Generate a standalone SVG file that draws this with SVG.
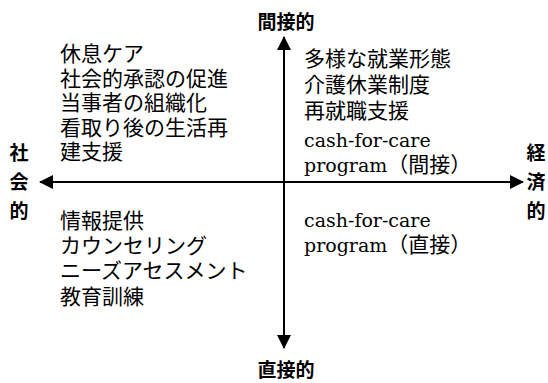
<svg xmlns="http://www.w3.org/2000/svg" width="548" height="383" viewBox="0 0 548 383">
<defs>
<style>
.t{font-family:"Noto Sans CJK JP","Noto Sans CJK SC",sans-serif;font-size:21px;fill:#000}
.s{font-family:"DejaVu Serif","Liberation Serif","Noto Sans CJK JP",serif;font-size:19px;fill:#000}
.j{font-family:"Noto Sans CJK JP",sans-serif;font-size:21px}
.b{font-family:"Noto Sans CJK JP","Noto Sans CJK SC",sans-serif;font-size:19px;font-weight:700;fill:#000}
.ax{stroke:#000;stroke-width:2;fill:none}
</style>
<marker id="ah" viewBox="0 0 14 14" refX="13" refY="7" markerWidth="14" markerHeight="14" markerUnits="userSpaceOnUse" orient="auto">
<path d="M0,0 L14,7 L0,14 Z" fill="#000"/>
</marker>
</defs>
<g id="connectors">
<line class="ax" x1="284" y1="182" x2="40" y2="182" marker-end="url(#ah)"/>
<line class="ax" x1="284" y1="182" x2="523" y2="182" marker-end="url(#ah)"/>
<line class="ax" x1="284" y1="182" x2="284" y2="37" marker-end="url(#ah)"/>
<line class="ax" x1="284" y1="182" x2="284" y2="348" marker-end="url(#ah)"/>
</g>
<g id="label-top"><text class="b" x="286" y="29" text-anchor="middle">間接的</text></g>
<g id="label-bottom"><text class="b" x="286" y="377" text-anchor="middle">直接的</text></g>
<g id="label-left">
<text class="b" x="19" y="160" text-anchor="middle">社</text>
<text class="b" x="19" y="189" text-anchor="middle">会</text>
<text class="b" x="19" y="218" text-anchor="middle">的</text>
</g>
<g id="label-right">
<text class="b" x="536" y="160" text-anchor="middle">経</text>
<text class="b" x="536" y="189" text-anchor="middle">済</text>
<text class="b" x="536" y="218" text-anchor="middle">的</text>
</g>
<g id="q-top-left">
<text class="t" x="60" y="61">休息ケア</text>
<text class="t" x="60" y="85.5">社会的承認の促進</text>
<text class="t" x="60" y="110">当事者の組織化</text>
<text class="t" x="60" y="134.5">看取り後の生活再</text>
<text class="t" x="60" y="159">建支援</text>
</g>
<g id="q-top-right">
<text class="t" x="304" y="66">多様な就業形態</text>
<text class="t" x="304" y="92">介護休業制度</text>
<text class="t" x="304" y="118">再就職支援</text>
<text class="s" x="304" y="147">cash-for-care</text>
<text class="s" x="304" y="172">program<tspan class="j">（間接）</tspan></text>
</g>
<g id="q-bottom-left">
<text class="t" x="60" y="228">情報提供</text>
<text class="t" x="60" y="253">カウンセリング</text>
<text class="t" x="60" y="278">ニーズアセスメント</text>
<text class="t" x="60" y="304">教育訓練</text>
</g>
<g id="q-bottom-right">
<text class="s" x="304" y="227">cash-for-care</text>
<text class="s" x="304" y="252">program<tspan class="j">（直接）</tspan></text>
</g>
</svg>
